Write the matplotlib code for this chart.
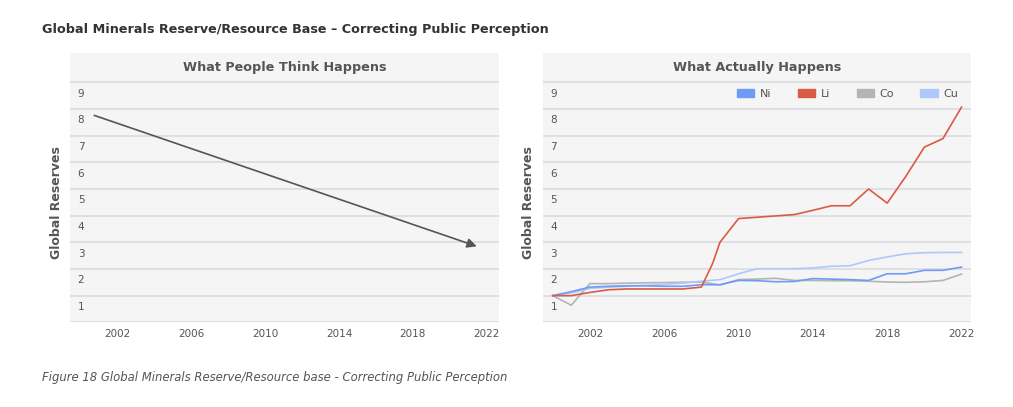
import matplotlib.pyplot as plt
from matplotlib.patches import Patch
import numpy as np

plt.rcParams['font.family'] = ['DejaVu Sans']

# data
years = [2000, 2001, 2002, 2003, 2004, 2005, 2006, 2007, 2008, 2009, 2010,
         2011, 2012, 2013, 2014, 2015, 2016, 2017, 2018, 2019, 2020, 2021, 2022]
ni = [1.0, 1.15, 1.32, 1.35, 1.37, 1.37, 1.35, 1.35, 1.41, 1.41, 1.57,
      1.56, 1.52, 1.53, 1.64, 1.62, 1.60, 1.57, 1.82, 1.82, 1.95, 1.95, 2.07]
co = [1.0, 0.64, 1.45, 1.45, 1.47, 1.48, 1.49, 1.50, 1.51, 1.40, 1.60,
      1.62, 1.65, 1.57, 1.57, 1.56, 1.56, 1.54, 1.51, 1.50, 1.52, 1.57, 1.81]
cu = [1.0, 1.10, 1.27, 1.32, 1.35, 1.38, 1.42, 1.47, 1.54, 1.60, 1.82,
      2.01, 2.01, 2.01, 2.04, 2.10, 2.12, 2.32, 2.45, 2.57, 2.61, 2.62, 2.62]
li_years = [2000, 2001, 2002, 2003, 2004, 2005, 2006, 2007, 2008, 2008.6, 2009,
            2010, 2011, 2012, 2013, 2014, 2015, 2016, 2017, 2018, 2019, 2020,
            2021, 2022]
li = [1.0, 1.0, 1.12, 1.22, 1.25, 1.25, 1.25, 1.25, 1.32, 2.2, 3.0,
      3.89, 3.94, 3.99, 4.04, 4.2, 4.37, 4.37, 5.0, 4.47, 5.47, 6.57,
      6.89, 8.07]

# perceived trend (arrow start / end)
think_x = [2000.73, 2021.46]
think_y = [7.76, 2.85]

xticks = [2002, 2006, 2010, 2014, 2018, 2022]
yticks = [1, 2, 3, 4, 5, 6, 7, 8, 9]

W, H = 1013, 407
fig = plt.figure(figsize=(W / 100, H / 100), dpi=100)
fig.patch.set_facecolor('white')

txt = '#555555'
grid = '#d8d8de'


def panel(left, right, xl, title):
    ax = fig.add_axes([left / W, (H - 322.3) / H, (right - left) / W, (322.3 - 53) / H])
    ax.set_facecolor('#f5f5f5')
    ax.set_xlim(xl)
    ax.set_ylim(0, 10.1)
    for s in ax.spines.values():
        s.set_visible(False)
    for v in [0] + yticks:
        ax.axhline(v, color=grid, lw=1.1, zorder=1)
    ax.set_yticks([])
    ax.set_xticks(xticks)
    ax.tick_params(axis='x', length=0, pad=5, labelsize=7.5, labelcolor=txt)
    for v in yticks:
        ax.text(0.018, v - 0.42, str(v), transform=ax.get_yaxis_transform(),
                ha='left', va='center', fontsize=7.5, color=txt)
    ax.text(0.5, 9.55, title, transform=ax.get_yaxis_transform(), ha='center',
            va='center', fontsize=9.2, fontweight='bold', color=txt)
    return ax


ax1 = panel(70, 498.7, (1999.415, 2022.65), 'What People Think Happens')
ax1.annotate('', xy=(think_x[1], think_y[1]), xytext=(think_x[0], think_y[0]),
             arrowprops=dict(arrowstyle='-|>', color='#555555', lw=1.2,
                             mutation_scale=14, shrinkA=0, shrinkB=0), zorder=3)

ax2 = panel(542.7, 971, (1999.46, 2022.51), 'What Actually Happens')
c_ni, c_li, c_co, c_cu = '#6f9af5', '#d95b43', '#b4b4b4', '#aec8fc'
ax2.plot(years, co, color=c_co, lw=1.2, zorder=3)
ax2.plot(years, cu, color=c_cu, lw=1.2, zorder=3)
ax2.plot(years, ni, color=c_ni, lw=1.2, zorder=4)
ax2.plot(li_years, li, color=c_li, lw=1.2, zorder=5)

handles = [Patch(color=c_ni, label='Ni'), Patch(color=c_li, label='Li'),
           Patch(color=c_co, label='Co'), Patch(color=c_cu, label='Cu')]
leg = ax2.legend(handles=handles, ncol=4, loc='upper right', frameon=False,
                 bbox_to_anchor=(0.97, 0.868), fontsize=8, handlelength=1.55,
                 handleheight=0.8, handletextpad=0.5, columnspacing=2.4,
                 borderpad=0, borderaxespad=0)
for t in leg.get_texts():
    t.set_color(txt)

for xp in (57, 528):
    fig.text(xp / W, 1 - 203 / H, 'Global Reserves', rotation=90, ha='center',
             va='center', fontsize=9, fontweight='bold', color=txt)

fig.text(42 / W, 1 - 29 / H, 'Global Minerals Reserve/Resource Base \u2013 Correcting Public Perception',
         ha='left', va='center', fontsize=9.2, fontweight='bold', color='#333333')
fig.text(42 / W, 1 - 377 / H, 'Figure 18 Global Minerals Reserve/Resource base - Correcting Public Perception',
         ha='left', va='center', fontsize=8.4, style='italic', color=txt)

fig.savefig('out.png', dpi=100, facecolor='white')
